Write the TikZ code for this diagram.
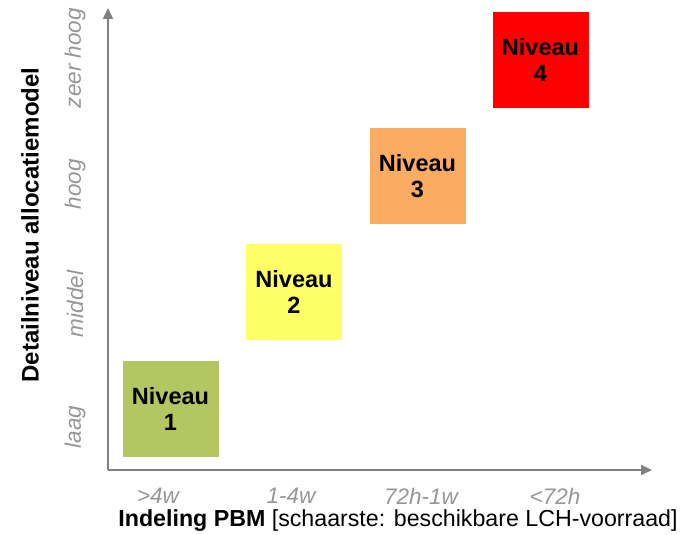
\documentclass[tikz,border=0pt]{standalone}
\usepackage{fontspec}
\setmainfont{Liberation Sans}
\usetikzlibrary{arrows.meta}
\definecolor{axisgray}{RGB}{128,128,128}
\definecolor{tickgray}{RGB}{150,150,150}
\definecolor{lvlgreen}{RGB}{180,198,98}
\definecolor{lvlyellow}{RGB}{255,255,102}
\definecolor{lvlorange}{RGB}{250,172,98}
\definecolor{lvlred}{RGB}{255,0,0}
\tikzset{
  levelbox/.style={minimum width=96pt, minimum height=96pt, inner sep=0pt, align=center,
    font=\fontsize{23.5}{26}\selectfont\bfseries},
  axisline/.style={draw=axisgray, line width=1.8pt, -{Triangle[length=11pt,width=10pt]}},
  ticklabel/.style={text=tickgray, font=\fontsize{22.5}{24}\selectfont\itshape, inner sep=0pt},
  axislabel/.style={font=\fontsize{23.2}{26}\selectfont, inner sep=0pt},
}
\begin{document}
\begin{tikzpicture}[x=1pt,y=-1pt]
\useasboundingbox (0,0) rectangle (685,535);
\coordinate (origin) at (108,470);
\coordinate (ytop) at (108,8);
\coordinate (xend) at (652,470);
\draw[axisline] (origin) -- (ytop);
\draw[axisline] (origin) -- (xend);

\node[levelbox, fill=lvlgreen] (box1) at (170.5,408.5) {Niveau\\1};
\node[levelbox, fill=lvlyellow] (box2) at (294,292) {Niveau\\2};
\node[levelbox, fill=lvlorange] (box3) at (417.5,176) {Niveau\\3};
\node[levelbox, fill=lvlred] (box4) at (540.5,60) {Niveau\\4};

\node[ticklabel, rotate=90] (tl1) at (75,427) {laag};
\node[ticklabel, rotate=90] (tl2) at (75,304) {middel};
\node[ticklabel, rotate=90] (tl3) at (75,184) {hoog};
\node[ticklabel, rotate=90] (tl4) at (75,58) {zeer hoog};

\node[ticklabel] (tx1) at (158,496) {>4w};
\node[ticklabel] (tx2) at (291,496) {1-4w};
\node[ticklabel] (tx3) at (421,496) {72h-1w};
\node[ticklabel] (tx4) at (555,496) {<72h};

\node[axislabel, rotate=90] (ylab) at (30,225) {\fontsize{24}{26}\selectfont\bfseries Detailniveau allocatiemodel};
\node[axislabel] (xlab) at (398,521) {\textbf{Indeling PBM} [schaarste: beschikbare LCH-voorraad]};
\end{tikzpicture}
\end{document}
